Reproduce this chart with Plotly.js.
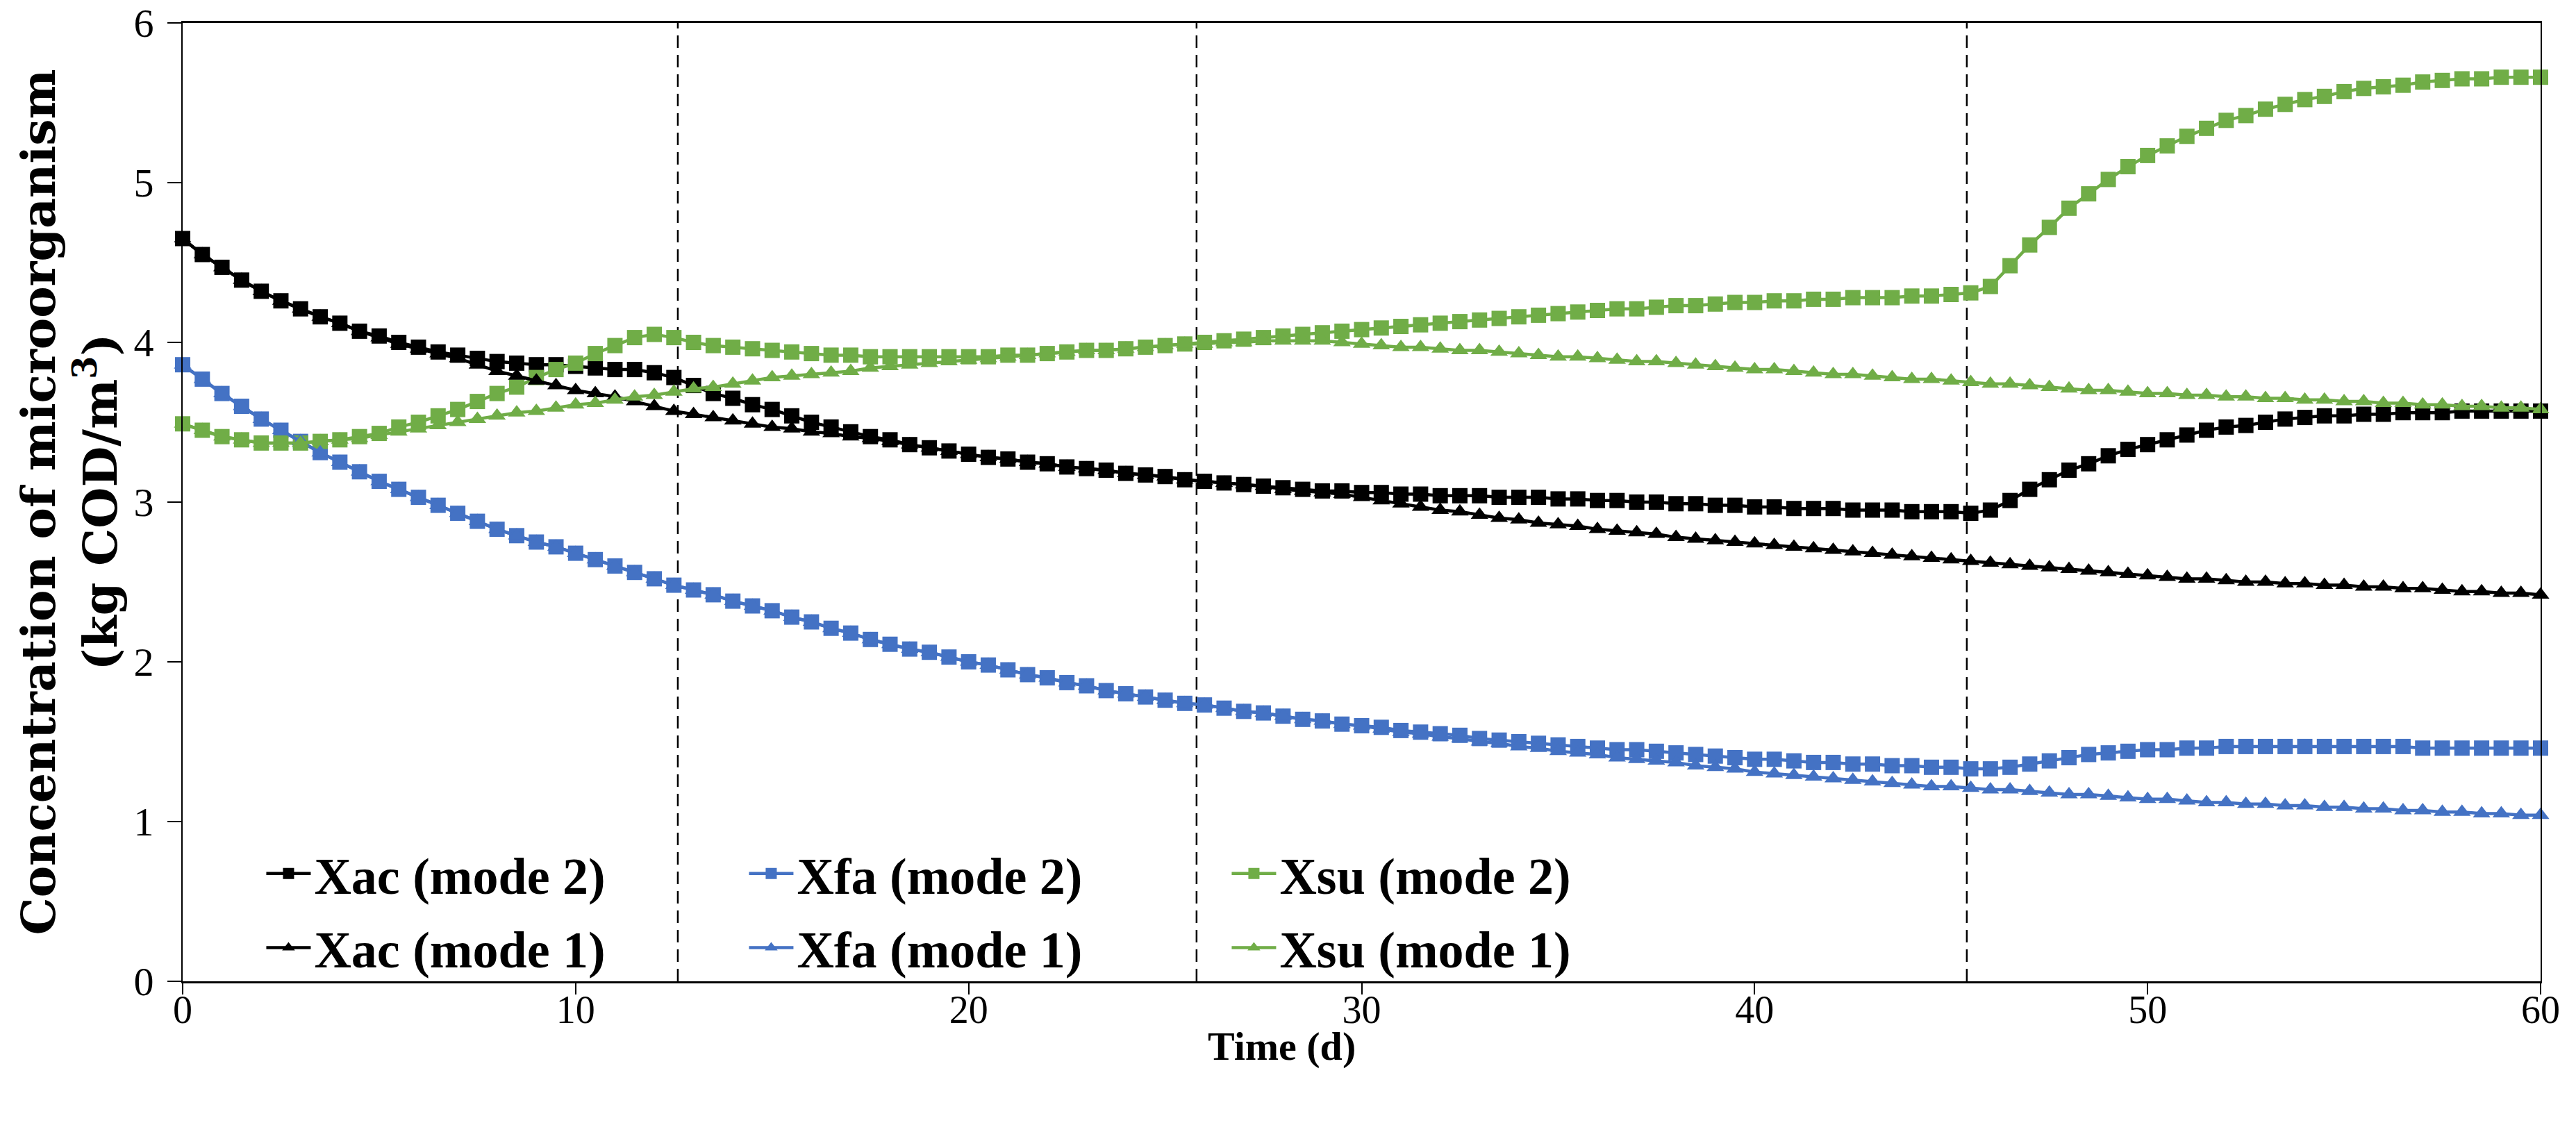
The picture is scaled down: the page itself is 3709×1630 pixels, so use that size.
<!DOCTYPE html>
<html>
<head>
<meta charset="utf-8">
<script src="https://cdn.plot.ly/plotly-3.0.1.min.js"></script>
<style>html,body{margin:0;padding:0;background:#fff}#chart{width:3709px;height:1630px}</style>
</head>
<body>
<div id="chart"></div>
<script>
// Time (d)
const time = [
  0, 0.5, 1, 1.5, 2, 2.5, 3, 3.5, 4, 4.5,
  5, 5.5, 6, 6.5, 7, 7.5, 8, 8.5, 9, 9.5,
  10, 10.5, 11, 11.5, 12, 12.5, 13, 13.5, 14, 14.5,
  15, 15.5, 16, 16.5, 17, 17.5, 18, 18.5, 19, 19.5,
  20, 20.5, 21, 21.5, 22, 22.5, 23, 23.5, 24, 24.5,
  25, 25.5, 26, 26.5, 27, 27.5, 28, 28.5, 29, 29.5,
  30, 30.5, 31, 31.5, 32, 32.5, 33, 33.5, 34, 34.5,
  35, 35.5, 36, 36.5, 37, 37.5, 38, 38.5, 39, 39.5,
  40, 40.5, 41, 41.5, 42, 42.5, 43, 43.5, 44, 44.5,
  45, 45.5, 46, 46.5, 47, 47.5, 48, 48.5, 49, 49.5,
  50, 50.5, 51, 51.5, 52, 52.5, 53, 53.5, 54, 54.5,
  55, 55.5, 56, 56.5, 57, 57.5, 58, 58.5, 59, 59.5,
  60
];

const xacMode2 = [
  4.65, 4.55, 4.47, 4.39, 4.32, 4.26, 4.21, 4.16, 4.12, 4.07,
  4.04, 4.00, 3.97, 3.94, 3.92, 3.90, 3.88, 3.87, 3.86, 3.86,
  3.85, 3.84, 3.83, 3.83, 3.81, 3.78, 3.73, 3.68, 3.65, 3.61,
  3.58, 3.54, 3.50, 3.47, 3.44, 3.41, 3.39, 3.36, 3.34, 3.32,
  3.30, 3.28, 3.27, 3.25, 3.24, 3.22, 3.21, 3.20, 3.18, 3.17,
  3.16, 3.14, 3.13, 3.12, 3.11, 3.10, 3.09, 3.08, 3.07, 3.07,
  3.06, 3.06, 3.05, 3.05, 3.04, 3.04, 3.04, 3.03, 3.03, 3.03,
  3.02, 3.02, 3.01, 3.01, 3.00, 3.00, 2.99, 2.99, 2.98, 2.98,
  2.97, 2.97, 2.96, 2.96, 2.96, 2.95, 2.95, 2.95, 2.94, 2.94,
  2.94, 2.93, 2.95, 3.01, 3.08, 3.14, 3.20, 3.24, 3.29, 3.33,
  3.36, 3.39, 3.42, 3.45, 3.47, 3.48, 3.50, 3.52, 3.53, 3.54,
  3.54, 3.55, 3.55, 3.56, 3.56, 3.56, 3.57, 3.57, 3.57, 3.57,
  3.57
];

const xfaMode2 = [
  3.86, 3.77, 3.68, 3.60, 3.52, 3.45, 3.38, 3.31, 3.25, 3.19,
  3.13, 3.08, 3.03, 2.98, 2.93, 2.88, 2.83, 2.79, 2.75, 2.72,
  2.68, 2.64, 2.60, 2.56, 2.52, 2.48, 2.45, 2.42, 2.38, 2.35,
  2.32, 2.28, 2.25, 2.21, 2.18, 2.14, 2.11, 2.08, 2.06, 2.03,
  2.00, 1.98, 1.95, 1.92, 1.90, 1.87, 1.85, 1.82, 1.80, 1.78,
  1.76, 1.74, 1.73, 1.71, 1.69, 1.68, 1.66, 1.64, 1.63, 1.61,
  1.60, 1.59, 1.57, 1.56, 1.55, 1.54, 1.52, 1.51, 1.50, 1.49,
  1.48, 1.47, 1.46, 1.45, 1.45, 1.44, 1.43, 1.42, 1.41, 1.40,
  1.39, 1.39, 1.38, 1.37, 1.37, 1.36, 1.36, 1.35, 1.35, 1.34,
  1.34, 1.33, 1.33, 1.34, 1.36, 1.38, 1.40, 1.42, 1.43, 1.44,
  1.45, 1.45, 1.46, 1.46, 1.47, 1.47, 1.47, 1.47, 1.47, 1.47,
  1.47, 1.47, 1.47, 1.47, 1.46, 1.46, 1.46, 1.46, 1.46, 1.46,
  1.46
];

const xsuMode2 = [
  3.49, 3.45, 3.41, 3.39, 3.37, 3.37, 3.37, 3.38, 3.39, 3.41,
  3.43, 3.47, 3.50, 3.54, 3.58, 3.63, 3.68, 3.72, 3.78, 3.83,
  3.87, 3.93, 3.98, 4.03, 4.05, 4.03, 4.00, 3.98, 3.97, 3.96,
  3.95, 3.94, 3.93, 3.92, 3.92, 3.91, 3.91, 3.91, 3.91, 3.91,
  3.91, 3.91, 3.92, 3.92, 3.93, 3.94, 3.95, 3.95, 3.96, 3.97,
  3.98, 3.99, 4.00, 4.01, 4.02, 4.03, 4.04, 4.05, 4.06, 4.07,
  4.08, 4.09, 4.10, 4.11, 4.12, 4.13, 4.14, 4.15, 4.16, 4.17,
  4.18, 4.19, 4.20, 4.21, 4.21, 4.22, 4.23, 4.23, 4.24, 4.25,
  4.25, 4.26, 4.26, 4.27, 4.27, 4.28, 4.28, 4.28, 4.29, 4.29,
  4.30, 4.31, 4.35, 4.48, 4.61, 4.72, 4.84, 4.93, 5.02, 5.10,
  5.17, 5.23, 5.29, 5.34, 5.39, 5.42, 5.46, 5.49, 5.52, 5.54,
  5.57, 5.59, 5.60, 5.61, 5.63, 5.64, 5.65, 5.65, 5.66, 5.66,
  5.66
];

const xacMode1 = [
  4.65, 4.55, 4.47, 4.39, 4.32, 4.26, 4.21, 4.16, 4.12, 4.07,
  4.03, 3.99, 3.96, 3.93, 3.90, 3.86, 3.82, 3.79, 3.76, 3.73,
  3.70, 3.68, 3.66, 3.63, 3.60, 3.57, 3.55, 3.53, 3.51, 3.49,
  3.47, 3.46, 3.44, 3.43, 3.41, 3.40, 3.38, 3.36, 3.34, 3.32,
  3.30, 3.28, 3.27, 3.25, 3.24, 3.22, 3.21, 3.20, 3.18, 3.17,
  3.16, 3.14, 3.13, 3.12, 3.11, 3.10, 3.08, 3.07, 3.06, 3.05,
  3.03, 3.01, 2.99, 2.97, 2.95, 2.94, 2.92, 2.90, 2.89, 2.87,
  2.86, 2.85, 2.83, 2.82, 2.81, 2.80, 2.78, 2.77, 2.76, 2.75,
  2.74, 2.73, 2.72, 2.71, 2.70, 2.69, 2.68, 2.67, 2.66, 2.65,
  2.64, 2.63, 2.62, 2.61, 2.60, 2.59, 2.58, 2.57, 2.56, 2.55,
  2.54, 2.53, 2.52, 2.52, 2.51, 2.50, 2.50, 2.49, 2.49, 2.48,
  2.48, 2.47, 2.47, 2.46, 2.46, 2.45, 2.44, 2.44, 2.43, 2.43,
  2.42
];

const xfaMode1 = [
  3.86, 3.77, 3.68, 3.60, 3.52, 3.45, 3.38, 3.31, 3.25, 3.19,
  3.13, 3.08, 3.03, 2.98, 2.93, 2.88, 2.83, 2.79, 2.75, 2.72,
  2.68, 2.64, 2.60, 2.56, 2.52, 2.48, 2.45, 2.42, 2.38, 2.35,
  2.32, 2.28, 2.25, 2.21, 2.18, 2.14, 2.11, 2.08, 2.06, 2.03,
  2.00, 1.98, 1.95, 1.92, 1.90, 1.87, 1.85, 1.82, 1.80, 1.78,
  1.76, 1.74, 1.73, 1.71, 1.69, 1.68, 1.66, 1.64, 1.63, 1.61,
  1.60, 1.58, 1.56, 1.55, 1.53, 1.52, 1.50, 1.49, 1.47, 1.46,
  1.44, 1.43, 1.42, 1.40, 1.39, 1.38, 1.37, 1.35, 1.34, 1.33,
  1.31, 1.30, 1.29, 1.28, 1.27, 1.26, 1.25, 1.24, 1.23, 1.22,
  1.22, 1.21, 1.20, 1.20, 1.19, 1.18, 1.17, 1.17, 1.16, 1.15,
  1.14, 1.14, 1.13, 1.12, 1.12, 1.11, 1.11, 1.10, 1.10, 1.09,
  1.09, 1.08, 1.08, 1.07, 1.07, 1.06, 1.06, 1.05, 1.05, 1.04,
  1.04
];

const xsuMode1 = [
  3.49, 3.45, 3.41, 3.39, 3.37, 3.37, 3.37, 3.38, 3.39, 3.40,
  3.42, 3.44, 3.46, 3.48, 3.50, 3.52, 3.54, 3.56, 3.57, 3.59,
  3.61, 3.62, 3.64, 3.66, 3.67, 3.69, 3.71, 3.72, 3.74, 3.76,
  3.78, 3.79, 3.80, 3.81, 3.82, 3.84, 3.85, 3.86, 3.87, 3.88,
  3.89, 3.90, 3.91, 3.92, 3.93, 3.94, 3.95, 3.95, 3.96, 3.97,
  3.98, 3.99, 3.99, 4.00, 4.00, 4.01, 4.01, 4.01, 4.01, 4.00,
  3.99, 3.98, 3.97, 3.97, 3.96, 3.95, 3.95, 3.94, 3.93, 3.92,
  3.91, 3.91, 3.90, 3.89, 3.88, 3.88, 3.87, 3.86, 3.85, 3.84,
  3.83, 3.83, 3.82, 3.81, 3.80, 3.80, 3.79, 3.78, 3.77, 3.77,
  3.76, 3.75, 3.74, 3.74, 3.73, 3.72, 3.71, 3.70, 3.70, 3.69,
  3.68, 3.68, 3.67, 3.67, 3.66, 3.66, 3.65, 3.65, 3.64, 3.64,
  3.63, 3.63, 3.62, 3.62, 3.61, 3.61, 3.60, 3.60, 3.59, 3.59,
  3.58
];

// Vertical dashed phase boundaries (d)
const phaseBoundaries = [12.6, 25.8, 45.4];

const seriesNames = ['Xac (mode 2)', 'Xfa (mode 2)', 'Xsu (mode 2)', 'Xac (mode 1)', 'Xfa (mode 1)', 'Xsu (mode 1)'];
const seriesValues = [xacMode2, xfaMode2, xsuMode2, xacMode1, xfaMode1, xsuMode1];
const seriesColors = ['#000000', '#4472C4', '#70AD47', '#000000', '#4472C4', '#70AD47'];

const traces = seriesValues.map((vals, i) => {
  const mode2 = i < 3;
  return {
    type: 'scatter',
    mode: 'lines+markers',
    name: seriesNames[i],
    x: time,
    y: vals,
    cliponaxis: false,
    legend: mode2 ? 'legend' : 'legend2',
    line: {color: seriesColors[i], width: 4.5},
    marker: {
      color: seriesColors[i],
      symbol: mode2 ? 'square' : 'triangle-up',
      size: mode2 ? 22 : 22,
      line: {width: 0}
    }
  };
});

const shapes = phaseBoundaries.map(v => ({
  type: 'line', xref: 'x', yref: 'y',
  x0: v, x1: v, y0: 0, y1: 6,
  line: {color: '#000000', width: 2.5, dash: '18px,10px'},
  layer: 'below'
}));

const legendCommon = {
  orientation: 'h',
  xanchor: 'left',
  yanchor: 'middle',
  x: 0.034,
  bgcolor: 'rgba(0,0,0,0)',
  borderwidth: 0,
  font: {family: 'Liberation Serif', size: 74, color: '#000000', weight: 'bold'},
  itemwidth: 64,
  entrywidthmode: 'pixels',
  entrywidth: 616,
  tracegroupgap: 0
};

const layout = {
  width: 3709,
  height: 1630,
  paper_bgcolor: '#ffffff',
  plot_bgcolor: '#ffffff',
  margin: {l: 263, r: 51, t: 33, b: 217},
  font: {family: 'Liberation Serif', color: '#000000'},
  showlegend: true,
  legend: Object.assign({}, legendCommon, {y: 0.1123}),
  legend2: Object.assign({}, legendCommon, {y: 0.0348}),
  xaxis: {
    range: [0, 60],
    dtick: 10,
    tick0: 0,
    ticks: 'outside',
    ticklen: 16,
    tickwidth: 2,
    tickcolor: '#000000',
    showgrid: false,
    zeroline: false,
    showline: true,
    linecolor: '#000000',
    linewidth: 3,
    mirror: true,
    tickfont: {family: 'Liberation Serif', size: 56, color: '#000000'},
    ticklabelstandoff: -26
  },
  yaxis: {
    range: [0, 6],
    dtick: 1,
    tick0: 0,
    ticks: 'outside',
    ticklen: 20,
    tickwidth: 2,
    tickcolor: '#000000',
    showgrid: false,
    zeroline: false,
    showline: true,
    linecolor: '#000000',
    linewidth: 2,
    mirror: true,
    tickfont: {family: 'Liberation Serif', size: 58, color: '#000000'},
    ticklabelstandoff: 8,
    title: {
      text: 'Concentration of microorganism<br>(kg COD/m<sup>3</sup>)',
      font: {family: 'DejaVu Serif', size: 68, color: '#000000', weight: 'bold'},
      standoff: 2
    }
  },
  annotations: [{
    text: 'Time (d)',
    xref: 'paper', yref: 'paper',
    x: 0.466, y: -0.068,
    xanchor: 'center', yanchor: 'middle',
    showarrow: false,
    font: {family: 'Liberation Serif', size: 58, color: '#000000', weight: 'bold'}
  }],
  shapes: shapes
};

Plotly.newPlot('chart', traces, layout, {displayModeBar: false, staticPlot: true});
</script>
</body>
</html>
